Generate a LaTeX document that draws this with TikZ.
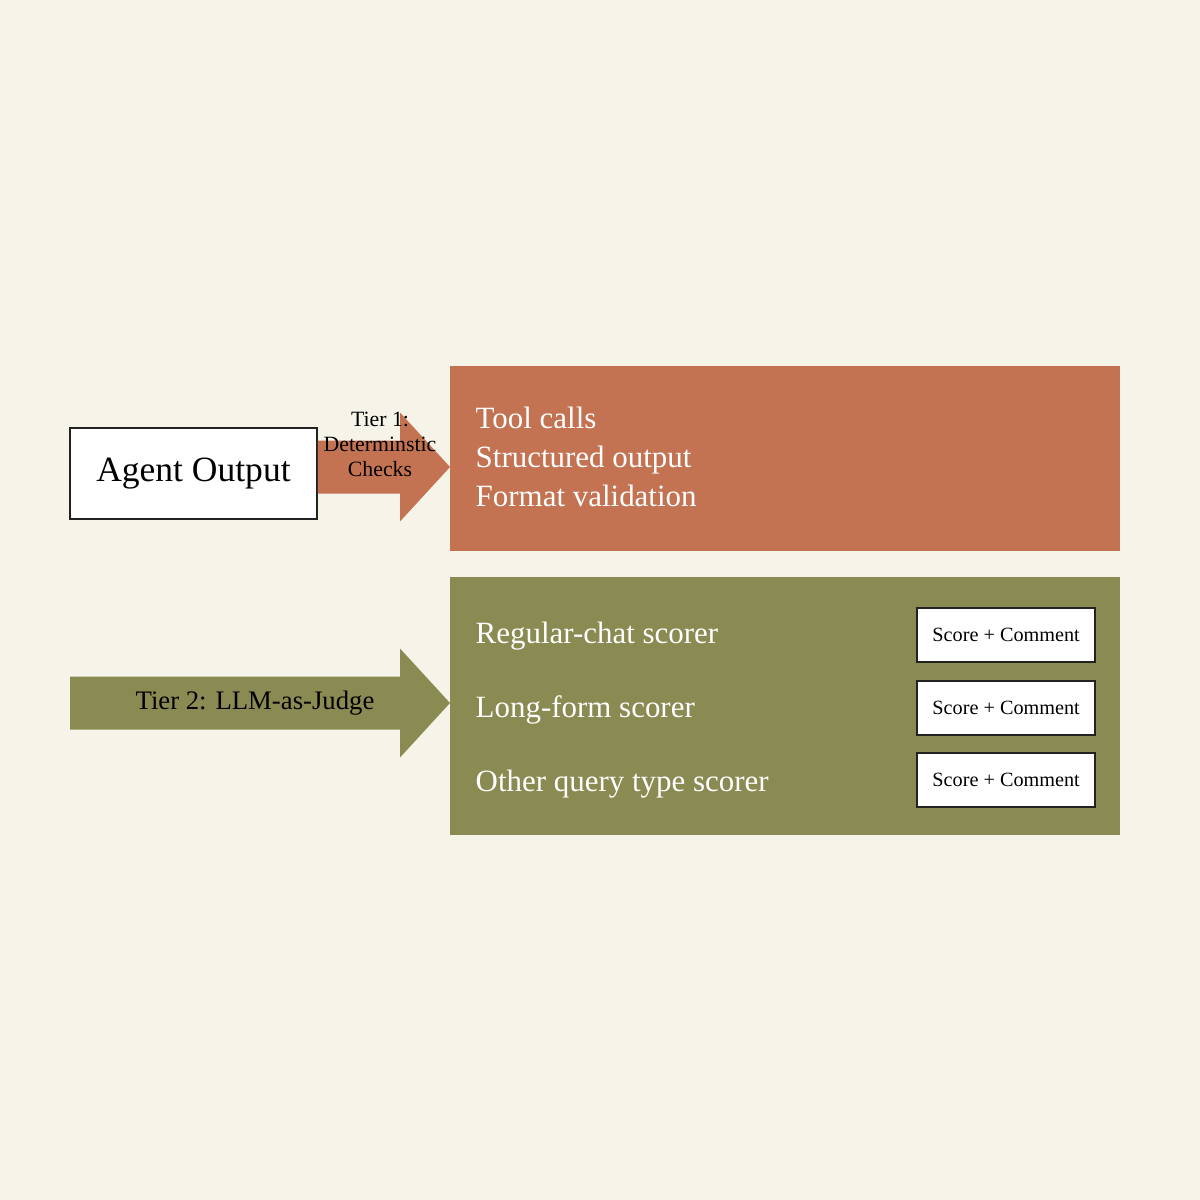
\documentclass[tikz,border=0pt]{standalone}
\usepackage{fontspec}
\setmainfont{Liberation Serif}
\usepackage{tikz}
\usetikzlibrary{positioning, calc}
\usepackage{xcolor}
\definecolor{bgcolor}{HTML}{F6F3E8}
\definecolor{tieronecolor}{HTML}{C47352}
\definecolor{tiertwocolor}{HTML}{8A8B52}
\definecolor{edgecolor}{HTML}{222222}

\tikzset{
    panel/.style={rectangle, inner sep=0pt, outer sep=0pt, anchor=north west, minimum width=6.70cm},
    paneltext/.style={text=white, anchor=base west, inner sep=0pt, font=\fontsize{8.8}{10}\selectfont},
    scorebox/.style={rectangle, draw=edgecolor, line width=0.6pt, fill=white, inner sep=0pt,
        anchor=north west, minimum width=1.78cm, minimum height=0.535cm,
        font=\fontsize{5.75}{6.5}\selectfont},
}

% block arrow: colour, tail, tip
\newcommand{\blockarrow}[3]{%
    \fill[#1] ($(#2)+(0,-26.5)$) -- ($(#3)+(-50,-26.5)$) -- ($(#3)+(-50,-54.5)$) -- (#3)
        -- ($(#3)+(-50,54.5)$) -- ($(#3)+(-50,26.5)$) -- ($(#2)+(0,26.5)$) -- cycle;}

\begin{document}
\begin{tikzpicture}[x=0.01cm, y=-0.01cm]
    % Background
    \fill[bgcolor] (0,0) rectangle (1200,1200);
    \useasboundingbox (0,0) rectangle (1200,1200);

    % Panels
    \node[panel, fill=tieronecolor, minimum height=1.85cm] (tierone) at (450,366) {};
    \node[panel, fill=tiertwocolor, minimum height=2.58cm] (tiertwo) at (450,577) {};

    % Input
    \node[rectangle, draw=edgecolor, line width=0.5pt, fill=white, anchor=north west,
        minimum width=2.47cm, minimum height=0.91cm, inner sep=0pt,
        font=\fontsize{10.1}{11}\selectfont] (agent) at (69,427) {Agent Output};

    % Tier arrows
    \coordinate (tonetail) at (agent.east |- 0,467);
    \coordinate (tonetip) at (tierone.west |- 0,467);
    \blockarrow{tieronecolor}{tonetail}{tonetip}
    \coordinate (ttwotail) at (70,703);
    \coordinate (ttwotip) at (tiertwo.west |- 0,703);
    \blockarrow{tiertwocolor}{ttwotail}{ttwotip}

    % Arrow labels
    \node[align=center, inner sep=0pt, font=\fontsize{6.2}{7.1}\selectfont] (tonelabel) at (380,444)
        {Tier 1:\\Determinstic\\Checks};
    \node[inner sep=0pt, font=\fontsize{7.6}{8.5}\selectfont] (ttwolabel) at (255,703) {Tier 2: LLM-as-Judge};

    % Tier 1 checks
    \node[paneltext] (toolcalls) at (475,428) {Tool calls};
    \node[paneltext] (structured) at (475,467) {Structured output};
    \node[paneltext] (format) at (475,506) {Format validation};

    % Tier 2 scorers
    \node[paneltext] (regular) at (475,643) {Regular-chat scorer};
    \node[paneltext] (longform) at (475,717) {Long-form scorer};
    \node[paneltext] (otherquery) at (475,791) {Other query type scorer};

    % Scorer outputs
    \node[scorebox] (scoreone) at (916,607) {Score + Comment};
    \node[scorebox] (scoretwo) at (916,680) {Score + Comment};
    \node[scorebox] (scorethree) at (916,752) {Score + Comment};
\end{tikzpicture}
\end{document}
